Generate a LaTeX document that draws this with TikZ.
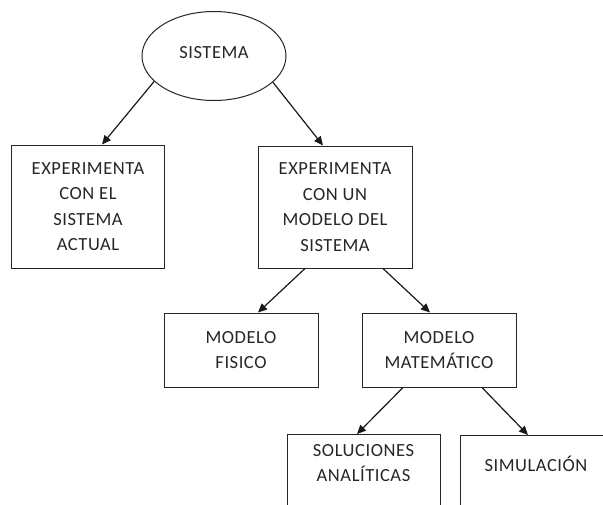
\documentclass[tikz,border=0pt]{standalone}
\usepackage{fontspec}
\setmainfont{Carlito}[LetterSpace=3]
\usetikzlibrary{shapes.geometric,arrows.meta,calc}
\begin{document}
\begin{tikzpicture}[x=1pt,y=-1pt,
  box/.style={draw=black!85, line width=1pt, rectangle, align=center, inner sep=0pt,
    font=\fontsize{18.5}{25.5}\selectfont, text=black!85},
  txt/.style={align=center, inner sep=0pt, font=\fontsize{18.5}{25.5}\selectfont, text=black!85},
  arr/.style={draw=black!90, line width=1.2pt, -{Triangle[length=9pt,width=8pt]}}]
\useasboundingbox (0,0) rectangle (603,504);
\clip (0,0) rectangle (603,504);
\fill[white] (0,0) rectangle (603,504);
\node[box, ellipse, minimum width=144pt, minimum height=89pt] (sis) at (214,56) {\raisebox{7pt}{SISTEMA}};
\node[box, minimum width=153.5pt, minimum height=123pt] (b1) at (88,206.5) {EXPERIMENTA\\CON EL\\SISTEMA\\ACTUAL};
\node[box, minimum width=154pt, minimum height=122pt] (b2) at (335,207) {EXPERIMENTA\\CON UN\\MODELO DEL\\SISTEMA};
\node[box, minimum width=154pt, minimum height=74pt] (fis) at (241,350) {MODELO\\FISICO};
\node[box, minimum width=154pt, minimum height=74pt] (mat) at (439,350) {MODELO\\MATEMÁTICO};
\node[box, minimum width=153pt, minimum height=100pt, anchor=north] (sol) at (363.5,434) {};
\node[box, minimum width=160pt, minimum height=100pt, anchor=north west] (sim) at (460,435) {};
\node[txt, anchor=north] (solt) at ($(sol.north)+(0,10)$) {SOLUCIONES\\ANALÍTICAS};
\node[txt] (simt) at ($(sim.north west)+(76,29)$) {SIMULACIÓN};
\draw[arr] (sis.203.5) -- ($(b1.north)+(14,0)$);
\draw[arr] (sis.-24.6) -- ($(b2.north)+(-12,0)$);
\draw[arr] ($(b2.south)+(-30,0)$) -- ($(fis.north)+(17,0)$);
\draw[arr] ($(b2.south)+(48,0)$) -- ($(mat.north)+(-9,0)$);
\draw[arr] ($(mat.south)+(-36,0)$) -- ($(sol.north)+(-6.5,0)$);
\draw[arr] ($(mat.south)+(43,0)$) -- ($(sim.north west)+(68,0)$);
\end{tikzpicture}
\end{document}
